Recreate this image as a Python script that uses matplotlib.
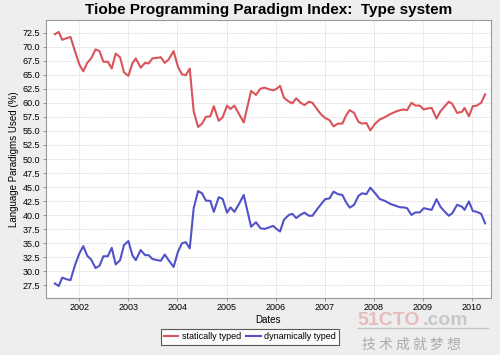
import matplotlib.pyplot as plt

plt.rcParams['font.family'] = ['Liberation Sans', 'Noto Sans CJK SC', 'DejaVu Sans']

# 数据
dates = [2001.50, 2001.58, 2001.65, 2001.74, 2001.82, 2001.91, 2002.00, 2002.08,
         2002.16, 2002.24, 2002.33, 2002.41, 2002.49, 2002.58, 2002.66, 2002.74,
         2002.83, 2002.91, 2003.00, 2003.08, 2003.15, 2003.25, 2003.34, 2003.41,
         2003.49, 2003.59, 2003.66, 2003.74, 2003.82, 2003.92, 2004.01, 2004.09,
         2004.17, 2004.25, 2004.33, 2004.42, 2004.50, 2004.58, 2004.67, 2004.74,
         2004.84, 2004.92, 2005.01, 2005.08, 2005.16, 2005.26, 2005.35, 2005.50,
         2005.60, 2005.69, 2005.77, 2005.87, 2005.95, 2006.02, 2006.09, 2006.17,
         2006.27, 2006.34, 2006.42, 2006.51, 2006.59, 2006.68, 2006.75, 2006.85,
         2006.93, 2007.01, 2007.10, 2007.18, 2007.27, 2007.36, 2007.44, 2007.51,
         2007.60, 2007.69, 2007.76, 2007.85, 2007.93, 2008.03, 2008.12, 2008.24,
         2008.34, 2008.44, 2008.54, 2008.61, 2008.68, 2008.77, 2008.85, 2008.94,
         2009.02, 2009.10, 2009.18, 2009.28, 2009.36, 2009.45, 2009.53, 2009.60,
         2009.70, 2009.80, 2009.85, 2009.94, 2010.02, 2010.10, 2010.19, 2010.27]

static = [72.2, 72.6, 71.2, 71.5, 71.7, 69.2, 66.8, 65.6,
          67.1, 67.9, 69.5, 69.2, 67.3, 67.3, 66.1, 68.75,
          68.1, 65.4, 64.8, 67.0, 67.9, 66.25, 67.1, 67.0,
          67.9, 68.0, 68.1, 67.1, 67.7, 69.2, 66.4, 65.05,
          64.9, 66.1, 58.5, 55.7, 56.3, 57.5, 57.6, 59.4,
          56.8, 57.4, 59.5, 58.9, 59.5, 57.9, 56.5, 62.1,
          61.4, 62.5, 62.7, 62.4, 62.2, 62.5, 63.0, 60.9,
          60.2, 59.9, 60.8, 60.0, 59.6, 60.2, 60.0, 58.8,
          57.9, 57.3, 56.9, 55.8, 56.3, 56.3, 57.8, 58.7,
          58.2, 56.6, 56.3, 56.4, 55.1, 56.3, 57.0, 57.5,
          58.0, 58.4, 58.7, 58.8, 58.7, 60.0, 59.5, 59.5,
          58.8, 59.0, 59.1, 57.2, 58.5, 59.4, 60.2, 59.8,
          58.2, 58.4, 59.1, 57.6, 59.4, 59.5, 60.0, 61.5]

dynamic = [27.85, 27.4, 28.9, 28.6, 28.45, 31.1, 33.2, 34.5,
           32.8, 32.1, 30.6, 31.0, 32.7, 32.7, 34.2, 31.25,
           32.0, 34.7, 35.4, 32.9, 32.0, 33.8, 32.9, 32.9,
           32.2, 32.0, 31.9, 33.0, 32.0, 30.8, 33.5, 35.0,
           35.2, 34.1, 41.25, 44.3, 43.9, 42.6, 42.55, 40.6,
           43.2, 42.9, 40.45, 41.4, 40.6, 42.1, 43.6, 37.95,
           38.75, 37.7, 37.55, 37.85, 38.1, 37.55, 37.1, 39.2,
           40.05, 40.25, 39.5, 40.1, 40.45, 39.9, 39.9, 41.1,
           42.0, 42.85, 43.0, 44.2, 43.75, 43.6, 42.25, 41.35,
           41.85, 43.45, 43.9, 43.75, 44.9, 43.9, 42.9, 42.5,
           42.0, 41.7, 41.4, 41.4, 41.25, 40.05, 40.5, 40.5,
           41.25, 41.1, 40.95, 42.85, 41.5, 40.6, 39.9, 40.35,
           41.85, 41.5, 40.95, 42.45, 40.75, 40.6, 40.25, 38.55]

years = list(range(2002, 2011))
yticks = [27.5 + 2.5 * i for i in range(19)]

fig = plt.figure(figsize=(5, 3.55), dpi=100, facecolor='#eeeeee')
ax = fig.add_axes([0.092, 0.161, 0.89, 0.783])
ax.set_facecolor('white')

ax.plot(dates, static, color='#d9545a', lw=1.5, label='statically typed')
ax.plot(dates, dynamic, color='#5252c8', lw=1.5, label='dynamically typed')

ax.set_xlim(2001.32, 2010.39)
ax.set_ylim(25.3, 74.75)
ax.set_xticks(years)
ax.set_xticklabels([str(y) for y in years], fontsize=6.5)
ax.set_yticks(yticks)
ax.set_yticklabels(['%.1f' % v for v in yticks], fontsize=6.5)
ax.tick_params(length=2, width=0.6, color='#888888', pad=2)
ax.grid(True, color='#dddddd', lw=0.6, ls=(0, (2, 1)))
for s in ax.spines.values():
    s.set_color('#999999')
    s.set_linewidth(0.8)

ax.set_title('Tiobe Programming Paradigm Index:  Type system',
             fontsize=11, fontweight='bold', pad=4)
ax.set_xlabel('Dates', fontsize=7, labelpad=2)
ax.set_ylabel('Language Paradigms Used (%)', fontsize=7, labelpad=3)

leg = fig.legend(loc='center', bbox_to_anchor=(0.5, 0.051), ncol=2,
                 fontsize=6.5, frameon=True, fancybox=False,
                 handlelength=1.6, handletextpad=0.4, columnspacing=0.6,
                 borderpad=0.35)
leg.get_frame().set_edgecolor('#333333')
leg.get_frame().set_linewidth(0.8)
leg.get_frame().set_facecolor('white')

# 水印（放在刻度标签下方，避免重叠）
fig.text(0.715, 0.085, '51CTO', fontsize=14, fontweight='bold',
         color='#d98080', alpha=0.45)
fig.text(0.845, 0.085, '.com', fontsize=14, fontweight='bold',
         color='#999999', alpha=0.45)
fig.add_artist(plt.Line2D([0.715, 0.975], [0.075, 0.075], color='#aaaaaa', lw=1, alpha=0.6))
fig.text(0.725, 0.018, '技 术 成 就 梦 想', fontsize=10, color='#aaaaaa',
         family=['Noto Sans CJK SC', 'DejaVu Sans'])

plt.savefig('out.png', dpi=100, facecolor=fig.get_facecolor())
